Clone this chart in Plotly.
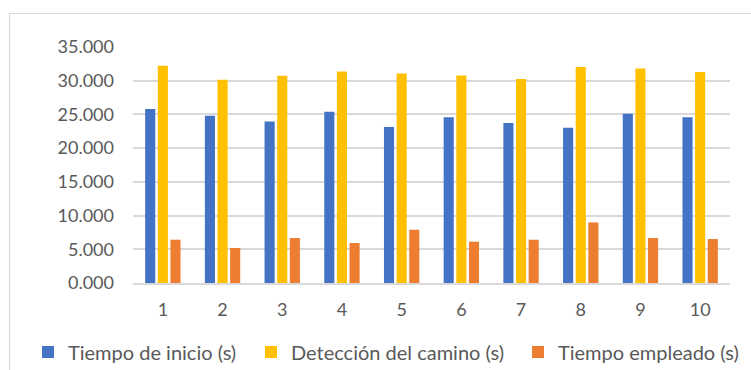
import plotly.graph_objects as go

# Run number on the category axis
runs = ["1", "2", "3", "4", "5", "6", "7", "8", "9", "10"]

# Times in seconds for each run
tiempo_inicio = [25.79, 24.80, 23.96, 25.40, 23.12, 24.60, 23.72, 23.02, 25.10, 24.60]
deteccion_camino = [32.21, 30.14, 30.73, 31.37, 31.08, 30.78, 30.24, 32.02, 31.82, 31.28]
tiempo_empleado = [6.42, 5.19, 6.67, 5.93, 7.90, 6.13, 6.42, 8.99, 6.67, 6.52]

series_names = ["Tiempo de inicio (s)", "Detección del camino (s)", "Tiempo empleado (s)"]
series_colors = ["#4472C4", "#FFC000", "#ED7D31"]

W, H = 751, 370
L, R, T, B = 133, 21, 47, 87
plot_w = W - L - R
plot_h = H - T - B

FONT = "Lato"
TEXT = "#595959"
GRID = "#D9D9D9"

fig = go.Figure()
all_series = [tiempo_inicio, deteccion_camino, tiempo_empleado]
legend_ids = ["legend", "legend2", "legend3"]
for vals, name, color, lg in zip(all_series, series_names, series_colors, legend_ids):
    fig.add_trace(go.Bar(
        x=runs, y=vals, name=name, legend=lg, showlegend=True,
        marker=dict(color=color, line=dict(width=0)),
    ))

# Pixel -> paper coordinates for the frame shape
def px_x(px):
    return (px - L) / plot_w

def px_y(py):
    return (H - B - py) / plot_h

# One legend per series, laid out along the bottom row (container coordinates)
legend_row_y = 352
legend_left_px = [28, 251, 518]
common_legend = dict(
    orientation="h", xref="container", yref="container",
    xanchor="left", yanchor="middle",
    y=1 - legend_row_y / H, bgcolor="rgba(0,0,0,0)",
    font=dict(family=FONT, size=20, color=TEXT),
)

fig.update_layout(
    width=W, height=H,
    showlegend=True,
    margin=dict(l=L, r=R, t=T, b=B, autoexpand=False),
    paper_bgcolor="white", plot_bgcolor="white",
    barmode="group", bargap=0.365, bargroupgap=0.2,
    font=dict(family=FONT, size=18, color=TEXT),
    legend=dict(x=legend_left_px[0] / W, **common_legend),
    legend2=dict(x=legend_left_px[1] / W, **common_legend),
    legend3=dict(x=legend_left_px[2] / W, **common_legend),
    xaxis=dict(
        showgrid=False, showline=True, linecolor=GRID, linewidth=1.5,
        ticks="", ticklabelstandoff=10,
        tickfont=dict(family=FONT, size=18, color=TEXT),
    ),
    yaxis=dict(
        range=[0, 35], tickvals=[0, 5, 10, 15, 20, 25, 30, 35], tickformat=".3f",
        showgrid=True, gridcolor=GRID, gridwidth=1.5,
        zeroline=False, showline=False, ticks="", ticklabelstandoff=18,
        tickfont=dict(family=FONT, size=18, color=TEXT),
    ),
    shapes=[dict(
        type="rect", xref="paper", yref="paper",
        x0=px_x(9.5), x1=px_x(W + 20), y0=px_y(H + 20), y1=px_y(13.5),
        line=dict(color=GRID, width=1.2), fillcolor="rgba(0,0,0,0)", layer="below",
    )],
)

fig.write_html("out.html")
